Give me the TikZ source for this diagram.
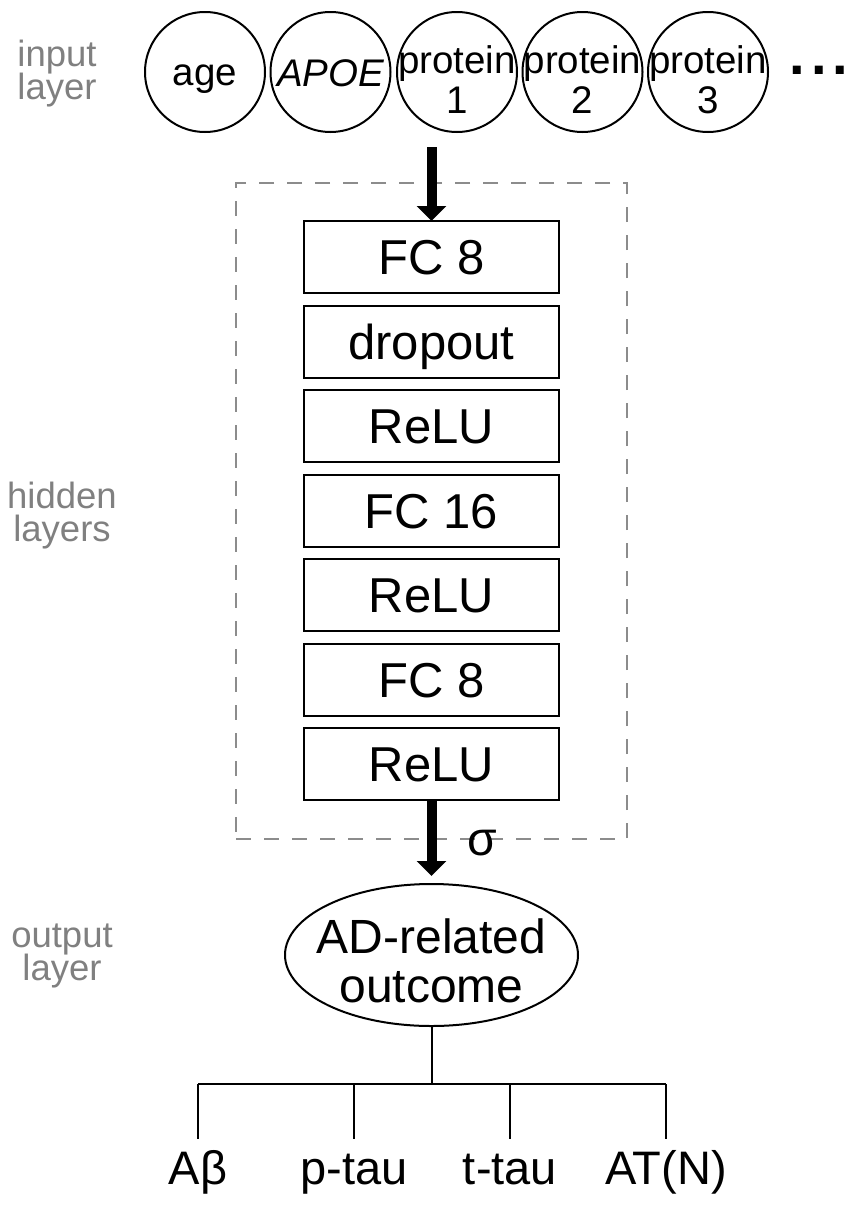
\documentclass[tikz,border=0pt]{standalone}
\usepackage{fontspec}
\setmainfont{Liberation Sans}
\usetikzlibrary{arrows.meta,shapes.geometric}
\definecolor{lblgray}{RGB}{128,128,128}
\definecolor{dashgray}{RGB}{140,140,140}
\begin{document}
\begin{tikzpicture}[x=1pt,y=-1pt,
  every node/.style={inner sep=0pt,outer sep=0pt},
  inp/.style={circle,draw,line width=2pt,minimum size=120pt},
  inptxt/.style={font=\fontsize{38.5}{40}\selectfont,anchor=base},
  grey/.style={text=lblgray,font=\fontsize{36.5}{36}\selectfont,anchor=base},
  layerbox/.style={draw,line width=2pt,minimum width=255pt,minimum height=72pt,text height=35pt,text depth=0pt,font=\fontsize{49}{50}\selectfont},
  bigarrow/.style={line width=10pt,-{Triangle[width=29pt,length=15pt]}},
  wire/.style={line width=2pt},
  outlbl/.style={font=\fontsize{47}{50}\selectfont,anchor=base,text height=34pt,text depth=10pt},
  outtxt/.style={font=\fontsize{48}{49}\selectfont,anchor=base},
]
\useasboundingbox (0,0) rectangle (851,1208);

% side labels
\node[grey] (lin1) at (57,66) {input};
\node[grey] (lin2) at (57,99) {layer};
\node[grey] (lhid1) at (62,508) {hidden};
\node[grey] (lhid2) at (62,541) {layers};
\node[grey] (lout1) at (62,947) {output};
\node[grey] (lout2) at (62,980) {layer};

% input layer
\node[inp] (age) at (205,72) {};
\node[inp] (apoe) at (330.5,72) {};
\node[inp] (p1) at (457,72) {};
\node[inp] (p2) at (582.5,72) {};
\node[inp] (p3) at (708,72) {};
\node[inptxt] at (205,85) {age};
\node[inptxt] at (330.5,86) {\itshape APOE};
\node[inptxt] at (457,73) {protein};
\node[inptxt] at (457,113) {1};
\node[inptxt] at (582.5,73) {protein};
\node[inptxt] at (582.5,113) {2};
\node[inptxt] at (708,73) {protein};
\node[inptxt] at (708,113) {3};
\node[font=\bfseries\fontsize{56}{56}\selectfont,anchor=base] (dots) at (819,74) {.\kern6pt.\kern6pt.};

% hidden layers
\node[draw=dashgray,line width=2pt,dash pattern=on 15pt off 13pt,minimum width=391pt,minimum height=656pt] (hid) at (431.5,511) {};
\node[layerbox] (b1) at (431.5,257) {FC 8};
\node[layerbox] (b2) at (431.5,342) {dropout};
\node[layerbox] (b3) at (431.5,426) {ReLU};
\node[layerbox] (b4) at (431.5,511) {FC 16};
\node[layerbox] (b5) at (431.5,595) {ReLU};
\node[layerbox] (b6) at (431.5,680) {FC 8};
\node[layerbox] (b7) at (431.5,764) {ReLU};

\coordinate (inarrow) at (431.5,147);
\draw[bigarrow] (inarrow) -- (b1.north);

% output layer
\node[draw,ellipse,line width=2pt,minimum width=293pt,minimum height=142pt] (out) at (431.5,955) {};
\node[outtxt] at (431.5,953) {AD-related};
\node[outtxt] at (431.5,1002) {outcome};
\draw[bigarrow,shorten >=8pt] (b7.south) -- (out.north);
\node[font=\fontsize{48}{48}\selectfont] (sig) at (482,843) {σ};

% outcomes
\coordinate (hub) at (431.5,1084);
\node[outlbl] (ab) at (198,1184) {Aβ};
\node[outlbl] (pt) at (354,1184) {p-tau};
\node[outlbl] (tt) at (510,1184) {t-tau};
\node[outlbl] (atn) at (666,1184) {AT(N)};
\draw[wire] (out.south) -- (hub);
\draw[wire] (ab.north |- hub) -- (atn.north |- hub);
\foreach \n in {ab,pt,tt,atn}{
  \draw[wire] (\n.north |- hub) -- ([yshift=11pt]\n.north);
}
\end{tikzpicture}
\end{document}
